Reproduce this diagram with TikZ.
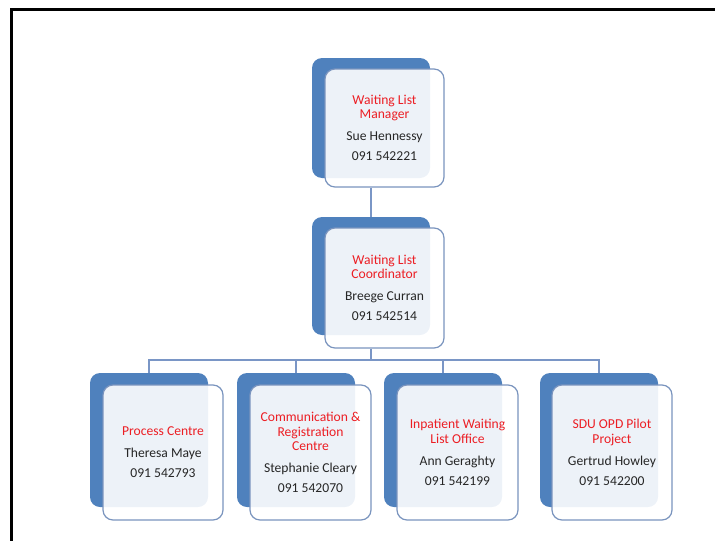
\documentclass[tikz,border=0pt]{standalone}
\usepackage{fontspec}
\setmainfont{Carlito}
\usepackage{xcolor}
\usepackage{tikz}
\usetikzlibrary{positioning,backgrounds}

\definecolor{boxblue}{RGB}{79,129,189}
\definecolor{rimblue}{RGB}{122,148,190}
\definecolor{linkblue}{RGB}{122,150,198}
\definecolor{titlered}{RGB}{236,30,36}
\definecolor{nametext}{RGB}{38,38,38}

\begin{document}
\begin{tikzpicture}[x=1pt,y=-1pt,
	back/.style={draw=none,fill=boxblue,rounded corners=10pt,minimum width=118pt,inner sep=0pt},
	front/.style={draw=rimblue,line width=1.2pt,fill=white,fill opacity=0.9,text opacity=1,
		rounded corners=10pt,inner sep=0pt,align=center,text=nametext,
		font=\fontsize{13.6}{14.5}\selectfont},
	link/.style={draw=linkblue,line width=1.4pt}]

	\useasboundingbox (0,0) rectangle (715,541);

	% frame
	\draw[line width=2.6pt] (715,9.5) -- (11.3,9.5) -- (11.3,541);

	% top two levels
	\node[back,minimum height=120pt] (mgrback) at (371,118) {};
	\node[front,minimum width=119pt,minimum height=118pt] (mgr) at (384.5,128)
		{\textcolor{titlered}{Waiting List}\\\textcolor{titlered}{Manager}\\[7.5pt]Sue Hennessy\\[5.5pt]091 542221};

	\node[back,minimum height=118pt] (coordback) at (371,276) {};
	\node[front,minimum width=119pt,minimum height=120pt] (coord) at (384.5,288)
		{\textcolor{titlered}{Waiting List}\\\textcolor{titlered}{Coordinator}\\[7.5pt]Breege Curran\\[5.5pt]091 542514};

	% bottom row
	\node[back,minimum height=134pt] (procback) at (149,440) {};
	\node[front,minimum width=120pt,minimum height=135pt] (proc) at (163,452.5)
		{\textcolor{titlered}{Process Centre}\\[7.5pt]Theresa Maye\\[5.5pt]091 542793};

	\node[back,minimum height=134pt] (commback) at (296,440) {};
	\node[front,minimum width=121pt,minimum height=135pt] (comm) at (310.5,452.5)
		{\textcolor{titlered}{Communication \&}\\\textcolor{titlered}{Registration}\\\textcolor{titlered}{Centre}\\[7.5pt]Stephanie Cleary\\[5.5pt]091 542070};

	\node[back,minimum height=134pt] (inpback) at (443,440) {};
	\node[front,minimum width=121pt,minimum height=135pt] (inp) at (457.5,452.5)
		{\textcolor{titlered}{Inpatient Waiting}\\\textcolor{titlered}{List Office}\\[7.5pt]Ann Geraghty\\[5.5pt]091 542199};

	\node[back,minimum height=134pt] (sduback) at (599,440) {};
	\node[front,minimum width=120pt,minimum height=135pt] (sdu) at (612,452.5)
		{\textcolor{titlered}{SDU OPD Pilot}\\\textcolor{titlered}{Project}\\[7.5pt]Gertrud Howley\\[5.5pt]091 542200};

	% connectors
	\coordinate (bus) at (371,360);
	\begin{scope}[on background layer]
		\draw[link] (mgr.south -| mgrback.south) -- (coordback.north);
		\draw[link] (coord.south -| coordback.south) -- (bus);
		\draw[link] (bus) -| (procback.north);
		\draw[link] (bus) -| (commback.north);
		\draw[link] (bus) -| (inpback.north);
		\draw[link] (bus) -| (sduback.north);
	\end{scope}

\end{tikzpicture}
\end{document}
